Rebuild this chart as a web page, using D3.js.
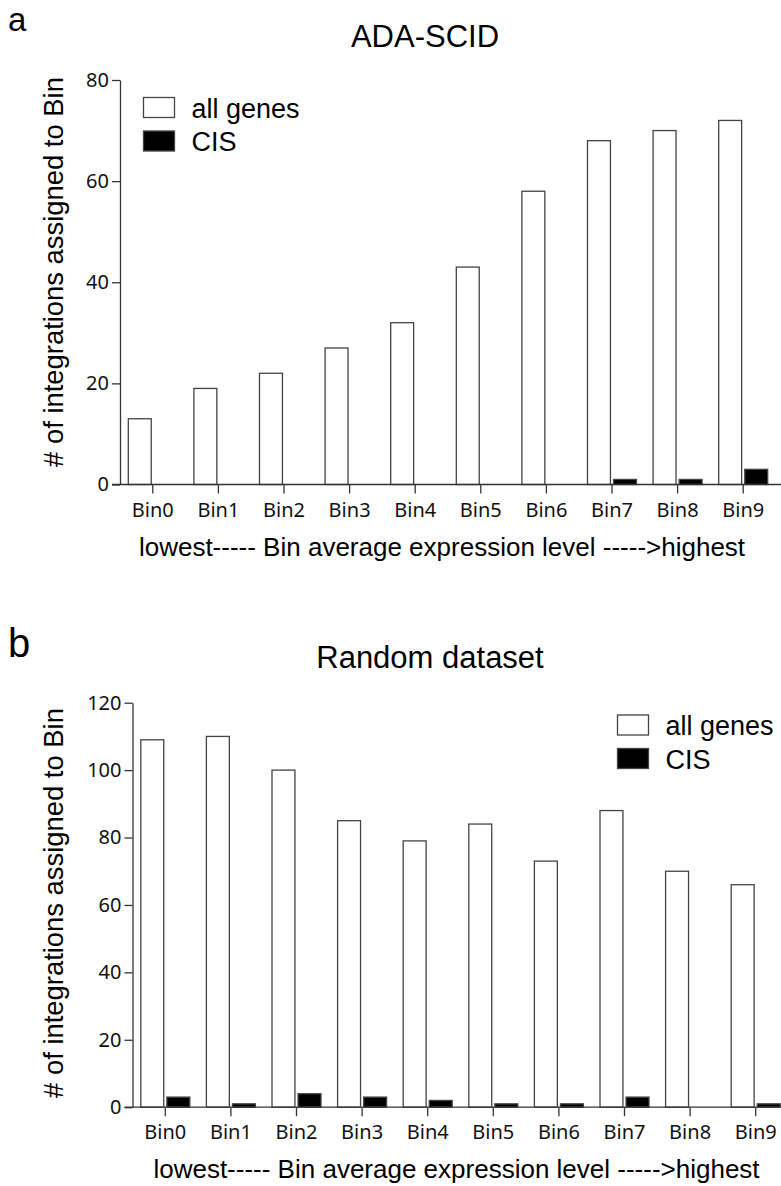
<!DOCTYPE html>
<html>
<head>
<meta charset="utf-8">
<script src="https://d3js.org/d3.v7.min.js"></script>
<style>
    body { margin: 0; background: #fff; }
    svg { display: block; }
    .tick text { font-family: "Noto Sans", sans-serif; }
</style>
</head>
<body>
<svg id="chart" width="781" height="1186"></svg>
<script>
    // bins and series
    var bins = ["Bin0", "Bin1", "Bin2", "Bin3", "Bin4", "Bin5", "Bin6", "Bin7", "Bin8", "Bin9"];
    var seriesNames = ["all genes", "CIS"];

    // panel a: ADA-SCID
    var adaAllGenes = [13, 19, 22, 27, 32, 43, 58, 68, 70, 72];
    var adaCIS = [0, 0, 0, 0, 0, 0, 0, 1, 1, 3];
    var adaTicks = [0, 20, 40, 60, 80];

    // panel b: Random dataset
    var randAllGenes = [109, 110, 100, 85, 79, 84, 73, 88, 70, 66];
    var randCIS = [3, 1, 4, 3, 2, 1, 1, 3, 0, 1];
    var randTicks = [0, 20, 40, 60, 80, 100, 120];

    var svg = d3.select("#chart");
    var sans = "'Liberation Sans', Arial, sans-serif";

    function drawPanel(p) {
        var x = d3.scaleBand().domain(bins).range([p.left, p.left + 656]);
        var y = d3.scaleLinear().domain([0, p.ymax]).range([p.bottom, p.top]);
        var x1 = d3.scaleBand().domain(seriesNames)
            .range([x.bandwidth() / 2 - 24.5, x.bandwidth() / 2 + 24.5])
            .paddingInner(0.12);

        var g = svg.append("g");

        // panel letter
        g.append("text")
            .attr("x", 8).attr("y", p.letterY)
            .attr("font-family", sans)
            .attr("font-size", p.letterSize)
            .text(p.letter);

        // title
        g.append("text")
            .attr("x", p.titleX).attr("y", p.titleY)
            .attr("text-anchor", "middle")
            .attr("font-family", sans)
            .attr("font-size", 31)
            .text(p.title);

        // bars
        var rows = bins.map(function (b, i) {
            return { bin: b, values: [p.all[i], p.cis[i]] };
        });
        var grp = g.selectAll("g.bin").data(rows).enter().append("g")
            .attr("class", "bin")
            .attr("transform", function (d) { return "translate(" + x(d.bin) + ",0)"; });
        grp.selectAll("rect")
            .data(function (d) { return d.values.map(function (v, k) { return { s: seriesNames[k], v: v }; }); })
            .enter().append("rect")
            .filter(function (d) { return d.v > 0; })
            .attr("x", function (d) { return x1(d.s); })
            .attr("y", function (d) { return y(d.v); })
            .attr("width", x1.bandwidth())
            .attr("height", function (d) { return y(0) - y(d.v); })
            .attr("fill", function (d) { return d.s === "CIS" ? "#000" : "#fff"; })
            .attr("stroke", "#444")
            .attr("stroke-width", 1.3);

        // y axis
        var ya = g.append("g")
            .attr("transform", "translate(" + p.left + ",0)")
            .call(d3.axisLeft(y).tickValues(p.ticks).tickSize(8).tickPadding(3).tickSizeOuter(0));
        ya.select(".domain").attr("stroke", "#333").attr("stroke-width", 1.3);
        ya.selectAll(".tick line").attr("stroke", "#333").attr("stroke-width", 1.3);
        ya.selectAll(".tick text").attr("font-size", 20).attr("fill", "#111");

        // x axis
        var xa = g.append("g")
            .attr("transform", "translate(0," + p.bottom + ")")
            .call(d3.axisBottom(x).tickSize(9).tickPadding(9).tickSizeOuter(0));
        xa.select(".domain").attr("d", "M" + (p.left - 8) + ",0H781")
            .attr("stroke", "#333").attr("stroke-width", 1.3);
        xa.selectAll(".tick line").attr("stroke", "#333").attr("stroke-width", 1.3);
        xa.selectAll(".tick text").attr("font-size", 20).attr("fill", "#111");

        // axis titles
        g.append("text")
            .attr("x", p.xTitleX).attr("y", p.xTitleY)
            .attr("text-anchor", "middle")
            .attr("font-family", sans)
            .attr("font-size", 26)
            .text("lowest----- Bin average expression level ----->highest");

        g.append("text")
            .attr("transform", "translate(63," + p.yTitleY + ") rotate(-90)")
            .attr("text-anchor", "middle")
            .attr("font-family", sans)
            .attr("font-size", 27.4)
            .text("# of integrations assigned to Bin");

        // legend
        var leg = g.append("g").attr("transform", "translate(" + p.legX + "," + p.legY + ")");
        seriesNames.forEach(function (s, k) {
            leg.append("rect")
                .attr("x", 0).attr("y", k * 33.5)
                .attr("width", 31).attr("height", 20)
                .attr("fill", s === "CIS" ? "#000" : "#fff")
                .attr("stroke", "#444").attr("stroke-width", 1.3);
            leg.append("text")
                .attr("x", 48).attr("y", k * 33.5 + 20)
                .attr("font-family", sans)
                .attr("font-size", 27)
                .text(s);
        });
    }

    drawPanel({
        letter: "a", letterY: 31, letterSize: 33,
        title: "ADA-SCID", titleX: 425, titleY: 46.5,
        all: adaAllGenes, cis: adaCIS, ticks: adaTicks, ymax: 80,
        left: 120, top: 80, bottom: 484.5,
        xTitleX: 442, xTitleY: 556, yTitleY: 272,
        legX: 143.5, legY: 97.5
    });

    drawPanel({
        letter: "b", letterY: 657, letterSize: 40,
        title: "Random dataset", titleX: 430, titleY: 667.5,
        all: randAllGenes, cis: randCIS, ticks: randTicks, ymax: 120,
        left: 132.5, top: 702.7, bottom: 1107.2,
        xTitleX: 456.5, xTitleY: 1178, yTitleY: 903,
        legX: 617.5, legY: 715
    });
</script>
</body>
</html>
